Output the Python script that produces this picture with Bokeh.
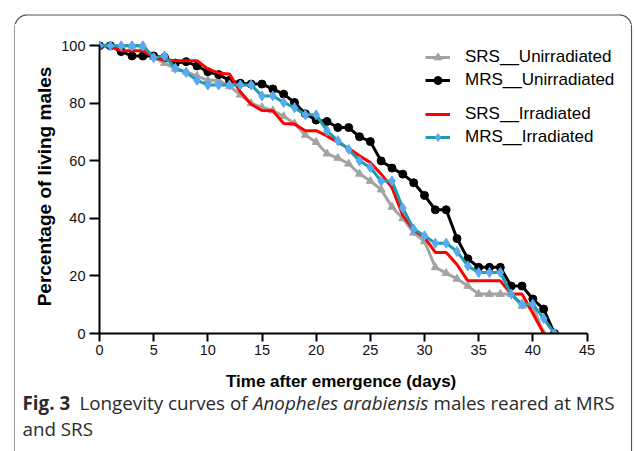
import numpy as np
from bokeh.plotting import figure
from bokeh.models import Range1d, FixedTicker, Legend, LegendItem, Label
from bokeh.layouts import column, row
from bokeh.embed import file_html
from bokeh.resources import INLINE

# ---------------- data ----------------
srs_unirr_days = list(range(0, 42))
srs_unirr = [100, 100, 100, 100, 100, 96, 94, 92, 91, 89.5,
             88, 88, 86, 83, 80, 78.6, 77.5, 75.5, 73, 69,
             66.5, 62.5, 61, 59, 55.5, 53, 50, 44, 40, 35,
             32, 23, 21, 19, 16.5, 13.7, 13.7, 13.7, 13.7, 9.6,
             9.6, 0]

mrs_unirr_days = list(range(0, 43))
mrs_unirr = [100, 100, 98, 96.5, 96.5, 96.5, 96, 94, 94.5, 93,
             91, 90, 88, 87, 86.7, 86.7, 85, 83.2, 80.3, 76.4,
             74.2, 73.7, 71.6, 71.6, 68.4, 66.7, 60, 57.5, 55.4, 52.4,
             48, 43, 43, 33, 26, 23, 23, 23, 16.5, 16.5,
             12, 8.5, 0]

srs_irr_days = list(range(0, 42))
srs_irr = [100, 100, 98.3, 98.3, 98.3, 96, 95, 94.8, 94.8, 94.8,
           92, 90.5, 90.2, 84, 79.7, 77.5, 77.4, 73, 72.8, 70.5,
           70.5, 68.7, 66.4, 64.4, 61.8, 59.4, 55.4, 50.7, 41, 36,
           33.4, 28.2, 28.2, 24, 18.3, 18.3, 18.3, 18.3, 13.7, 13.7,
           7, 0]

mrs_irr_days = list(range(0, 43))
mrs_irr = [100, 100, 100, 100, 100, 95.9, 96.5, 92.2, 90.7, 88,
           86.4, 86.4, 86.4, 86.4, 86.4, 82.6, 82.6, 80.3, 78.5, 76,
           76, 70.5, 67, 64, 60, 57.7, 53, 53, 43.6, 36.3,
           34, 31.4, 31.4, 28.5, 23.5, 21.2, 21.2, 21.2, 13.7, 10.2,
           10.2, 5.2, 0]

series_labels = ["SRS__Unirradiated", "MRS__Unirradiated", "SRS__Irradiated", "MRS__Irradiated"]
x_ticks = [0, 5, 10, 15, 20, 25, 30, 35, 40, 45]
y_ticks = [0, 20, 40, 60, 80, 100]
x_title = "Time after emergence  (days)"
y_title = "Percentage of living males"

# ---------------- page geometry ----------------
PW, PH = 636, 451
TOP_H = 24          # strip above the chart
LEFT_W = 15         # strip left of the chart
RIGHT_W = 6         # strip right of the chart
W, H = PW - LEFT_W - RIGHT_W, 338
CH = PH - TOP_H - H
OX, OY = LEFT_W, TOP_H
L, R, T, B = 84, 11, 15, 29
X0, X1 = 0, 48
Y0, Y1 = 0, 102.2


def no_align(fig):
    if "frame_align" in fig.properties():
        fig.frame_align = False


p = figure(width=W, height=H, output_backend="svg", toolbar_location=None,
           x_range=Range1d(X0, X1), y_range=Range1d(Y0, Y1),
           min_border_left=L, min_border_right=R, min_border_top=T, min_border_bottom=B)
no_align(p)
p.outline_line_color = None
p.grid.visible = False

AX_FONT = "Liberation Sans"
for ax in (p.xaxis[0], p.yaxis[0]):
    ax.axis_line_width = 2
    ax.axis_line_color = "black"
    ax.major_tick_line_width = 2
    ax.major_tick_line_color = "black"
    ax.major_tick_in = 0
    ax.minor_tick_line_color = None
    ax.major_label_text_font = AX_FONT
    ax.major_label_text_font_size = "14.5px"
    ax.major_label_text_color = "#111111"
    ax.axis_label_text_font = AX_FONT
    ax.axis_label_text_font_style = "bold"
    ax.axis_label_text_color = "black"

p.xaxis.bounds = (0, 45)
p.yaxis.bounds = (0, 100)
p.xaxis.ticker = FixedTicker(ticks=x_ticks)
p.yaxis.ticker = FixedTicker(ticks=y_ticks)
p.xaxis.major_tick_out = 8
p.yaxis.major_tick_out = 10
p.xaxis.major_label_standoff = 3
p.yaxis.major_label_standoff = 4
p.yaxis.axis_label = y_title
p.yaxis.axis_label_text_font_size = "19px"
p.yaxis.axis_label_standoff = 3

GRAY = "#a3a3a3"
BLACK = "#000000"
RED = "#ff0000"
TEAL = "#1f9db0"
BLUE = "#5aaaf0"

g_line = p.line(srs_unirr_days, srs_unirr, line_color=GRAY, line_width=3)
g_pts = p.scatter(srs_unirr_days, srs_unirr, marker="triangle", size=8, color=GRAY)
k_line = p.line(mrs_unirr_days, mrs_unirr, line_color=BLACK, line_width=3)
k_pts = p.scatter(mrs_unirr_days, mrs_unirr, marker="circle", size=8, color=BLACK)
r_line = p.line(srs_irr_days, srs_irr, line_color=RED, line_width=3)
b_line = p.line(mrs_irr_days, mrs_irr, line_color=TEAL, line_width=3)
b_pts = p.scatter(mrs_irr_days, mrs_irr, marker="diamond", size=10, color=BLUE)

frame_left_page = OX + L
frame_bottom_page = OY + (H - B)


def make_legend(items, top_page):
    h = 2 * 20 + 3
    return Legend(items=items,
                  location=(425 - frame_left_page, frame_bottom_page - (top_page + h)),
                  glyph_width=25, glyph_height=20, label_height=20, spacing=3,
                  padding=0, margin=0, label_standoff=15,
                  border_line_color=None, background_fill_alpha=0,
                  label_text_font=AX_FONT, label_text_font_size="17px",
                  label_text_color="black")


p.add_layout(make_legend([LegendItem(label=series_labels[0], renderers=[g_line, g_pts]),
                          LegendItem(label=series_labels[1], renderers=[k_line, k_pts])], 47))
p.add_layout(make_legend([LegendItem(label=series_labels[2], renderers=[r_line]),
                          LegendItem(label=series_labels[3], renderers=[b_line, b_pts])], 104))


# ---------------- helper figures mapped to page pixels ----------------
def page_fig(x_left, y_top, w, h):
    f = figure(width=w, height=h, output_backend="svg", toolbar_location=None,
               x_range=Range1d(x_left, x_left + w), y_range=Range1d(y_top + h, y_top),
               min_border=0, min_border_left=0, min_border_right=0,
               min_border_top=0, min_border_bottom=0,
               x_axis_location=None, y_axis_location=None)
    no_align(f)
    f.outline_line_color = None
    f.grid.visible = False
    return f


# card border (decoration): left line, rounded top corners, right line
rad = 12
bx0, by0, bx1, bbot = 14.5, 14.5, 631, 470
a1 = np.linspace(np.pi, 1.5 * np.pi, 14)
a2 = np.linspace(1.5 * np.pi, 2 * np.pi, 14)
border_x = [bx0] + list(bx0 + rad + rad * np.cos(a1)) + list(bx1 - rad + rad * np.cos(a2)) + [bx1]
border_y = [bbot] + list(by0 + rad + rad * np.sin(a1)) + list(by0 + rad + rad * np.sin(a2)) + [bbot]

top_strip = page_fig(0, 0, PW, TOP_H)
left_strip = page_fig(0, TOP_H, LEFT_W, PH - TOP_H)
right_strip = page_fig(PW - RIGHT_W, TOP_H, RIGHT_W, PH - TOP_H)
for f in (top_strip, left_strip, right_strip):
    f.line(border_x, border_y, line_color="#555555", line_width=1.2)

# area below the axis: x-axis title and figure caption
cap = page_fig(OX, OY + H, W, CH)
cap.add_layout(Label(x=343, y=381, text=x_title, text_font=AX_FONT, text_font_size="17px",
                     text_font_style="bold", text_baseline="middle", text_align="center",
                     text_color="black"))

CAP = "Open Sans"
caption = [
    ("Fig. 3", 22, 402, "bold"),
    ("Longevity curves of", 79, 402, "normal"),
    ("Anopheles arabiensis", 252.5, 402, "italic"),
    ("males reared at MRS", 433, 402, "normal"),
    ("and SRS", 22, 428, "normal"),
]
for txt, px, py, style in caption:
    cap.add_layout(Label(x=px, y=py, text=txt, text_font=CAP,
                         text_font_size="18.8px", text_font_style=style,
                         text_baseline="middle", text_align="left", text_color="#2a2a2a"))

root = column(top_strip, row(left_strip, column(p, cap, spacing=0), right_strip, spacing=0), spacing=0)

open("out.html", "w").write(file_html(root, INLINE))
